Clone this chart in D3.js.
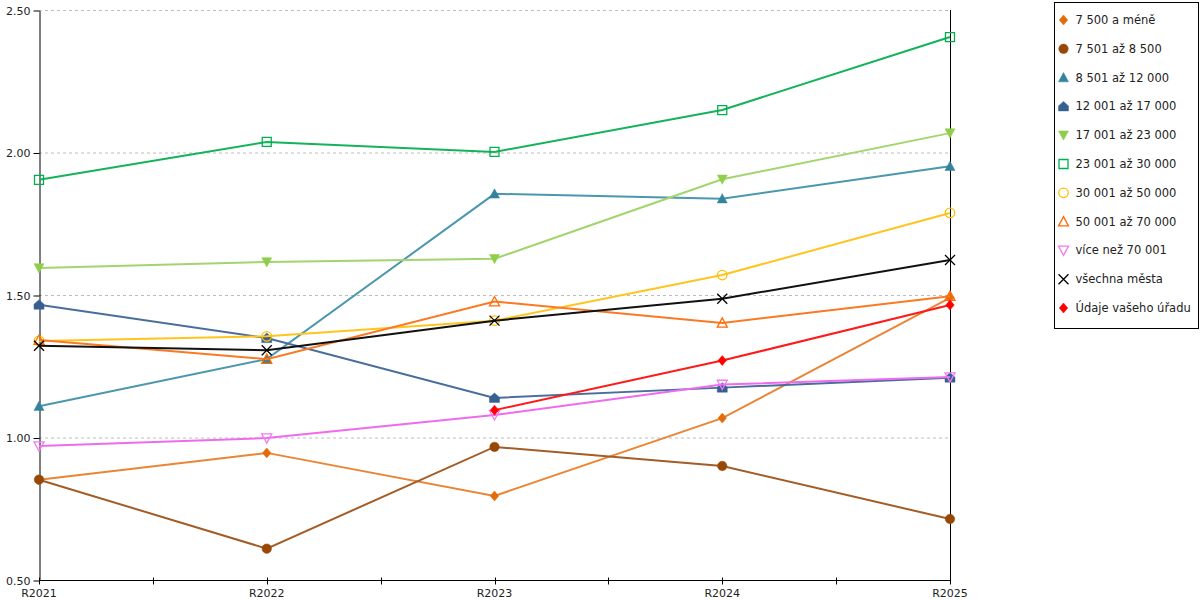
<!DOCTYPE html>
<html>
<head>
<meta charset="utf-8">
<script src="https://cdn.jsdelivr.net/npm/d3@7"></script>
<style>
  body { margin: 0; background: #fff; }
  svg { display: block; font-family: "DejaVu Sans", Verdana, sans-serif; }
</style>
</head>
<body>
<div id="chart"></div>
<script>
const categories = ["R2021", "R2022", "R2023", "R2024", "R2025"];
const yTicks = [0.5, 1.0, 1.5, 2.0, 2.5];

const seriesNames = [
    "7 500 a méně",
    "7 501 až 8 500",
    "8 501 až 12 000",
    "12 001 až 17 000",
    "17 001 až 23 000",
    "23 001 až 30 000",
    "30 001 až 50 000",
    "50 001 až 70 000",
    "více než 70 001",
    "všechna města",
    "Údaje vašeho úřadu"
];

const s7500 = [0.852, 0.946, 0.795, 1.068, 1.490];
const s8500 = [0.852, 0.610, 0.967, 0.900, 0.714];
const s12000 = [1.110, 1.275, 1.855, 1.838, 1.952];
const s17000 = [1.466, 1.349, 1.139, 1.175, 1.210];
const s23000 = [1.595, 1.616, 1.627, 1.906, 2.068];
const s30000 = [1.904, 2.037, 2.002, 2.149, 2.405];
const s50000 = [1.339, 1.355, 1.410, 1.570, 1.788];
const s70000 = [1.342, 1.275, 1.477, 1.402, 1.496];
const sOver70 = [0.970, 0.998, 1.079, 1.186, 1.212];
const sAll = [1.322, 1.306, 1.410, 1.487, 1.623];
const sOffice = [null, null, 1.096, 1.270, 1.465];

const seriesValues = [s7500, s8500, s12000, s17000, s23000, s30000, s50000, s70000, sOver70, sAll, sOffice];

// marker shape, marker colour, line colour, filled?
const styles = [
    {shape: "diamond", color: "#e36c0a", line: "#ea8535", fill: true},
    {shape: "circle", color: "#974806", line: "#a45c26", fill: true},
    {shape: "triangle", color: "#31849b", line: "#4b97ad", fill: true},
    {shape: "house", color: "#376092", line: "#4a6e9c", fill: true},
    {shape: "triangleDown", color: "#8fce4a", line: "#a3d56d", fill: true},
    {shape: "square", color: "#00b050", line: "#14b35a", fill: false},
    {shape: "circle", color: "#ffc000", line: "#ffc41e", fill: false},
    {shape: "triangle", color: "#ff6a00", line: "#fa7a24", fill: false},
    {shape: "triangleDown", color: "#f27bf2", line: "#f06af0", fill: false},
    {shape: "x", color: "#000000", line: "#111111", fill: false},
    {shape: "diamond", color: "#ff0000", line: "#ff1a1a", fill: true}
];

const width = 1200, height = 600;
const plotLeft = 39, plotRight = 950, plotTop = 10, plotBottom = 580;

const svg = d3.select("#chart").append("svg")
    .attr("width", width)
    .attr("height", height);

const x = d3.scalePoint().domain(categories).range([plotLeft, plotRight]);
const y = d3.scaleLinear().domain([0.5, 2.5]).range([plotBottom, plotTop]);

// custom marker shapes, r = half size
function shapePath(shape, r) {
    const p = d3.path();
    switch (shape) {
        case "diamond":
            p.moveTo(0, -r); p.lineTo(r * 0.85, 0); p.lineTo(0, r); p.lineTo(-r * 0.85, 0); p.closePath();
            break;
        case "circle":
            p.arc(0, 0, r * 0.95, 0, 2 * Math.PI);
            break;
        case "triangle":
            p.moveTo(0, -r); p.lineTo(r, r * 0.85); p.lineTo(-r, r * 0.85); p.closePath();
            break;
        case "triangleDown":
            p.moveTo(0, r); p.lineTo(r, -r * 0.85); p.lineTo(-r, -r * 0.85); p.closePath();
            break;
        case "house":
            p.moveTo(0, -r); p.lineTo(r, -r * 0.1); p.lineTo(r, r * 0.9); p.lineTo(-r, r * 0.9); p.lineTo(-r, -r * 0.1); p.closePath();
            break;
        case "square":
            p.rect(-r * 0.9, -r * 0.9, r * 1.8, r * 1.8);
            break;
        case "x":
            p.moveTo(-r, -r); p.lineTo(r, r); p.moveTo(r, -r); p.lineTo(-r, r);
            break;
    }
    return p.toString();
}

// grid
svg.append("g")
    .selectAll("line")
    .data(yTicks.slice(1))
    .join("line")
    .attr("x1", plotLeft)
    .attr("x2", plotRight)
    .attr("y1", d => y(d) + 0.5)
    .attr("y2", d => y(d) + 0.5)
    .attr("stroke", "#bdbdbd")
    .attr("stroke-dasharray", "3,3");

// right border line
svg.append("line")
    .attr("x1", plotRight + 0.5).attr("x2", plotRight + 0.5)
    .attr("y1", plotTop).attr("y2", plotBottom)
    .attr("stroke", "#000");

// y axis
const yAxis = svg.append("g")
    .attr("transform", `translate(${plotLeft + 0.5},0.5)`)
    .call(d3.axisLeft(y).tickValues(yTicks).tickFormat(d3.format(".2f")).tickSize(6).tickSizeOuter(0));
yAxis.select(".domain").attr("stroke", "#000");
yAxis.selectAll("text").attr("font-size", 11).attr("fill", "#222").attr("font-family", "DejaVu Sans, sans-serif").attr("x", -9);

// x axis with ticks at categories and midpoints
const step = x.step();
const xTickPos = d3.range(0, categories.length * 2 - 1).map(i => plotLeft + i * step / 2);
const xAxisG = svg.append("g").attr("transform", `translate(0,${plotBottom + 0.5})`);
xAxisG.append("line")
    .attr("x1", plotLeft).attr("x2", plotRight)
    .attr("stroke", "#000");
xAxisG.selectAll("line.tick")
    .data(xTickPos)
    .join("line")
    .attr("class", "tick")
    .attr("x1", d => Math.round(d) + 0.5)
    .attr("x2", d => Math.round(d) + 0.5)
    .attr("y1", -3)
    .attr("y2", 4)
    .attr("stroke", "#000");
xAxisG.selectAll("text")
    .data(categories)
    .join("text")
    .attr("x", d => x(d))
    .attr("y", 16)
    .attr("text-anchor", "middle")
    .attr("font-size", 11)
    .attr("fill", "#222")
    .text(d => d);

// series
const line = d3.line()
    .defined(d => d.v != null)
    .x(d => x(d.c))
    .y(d => y(d.v));

seriesValues.forEach((vals, i) => {
    const st = styles[i];
    const pts = vals.map((v, j) => ({c: categories[j], v}));
    const g = svg.append("g");
    g.append("path")
        .datum(pts)
        .attr("d", line)
        .attr("fill", "none")
        .attr("stroke", st.line)
        .attr("stroke-width", 2);
    g.selectAll("path.m")
        .data(pts.filter(d => d.v != null))
        .join("path")
        .attr("class", "m")
        .attr("transform", d => `translate(${x(d.c)},${y(d.v)})`)
        .attr("d", shapePath(st.shape, 5))
        .attr("fill", st.fill ? st.color : "none")
        .attr("stroke", st.color)
        .attr("stroke-width", st.fill ? 0.5 : 1.3);
});

// legend
const legend = svg.append("g").attr("transform", "translate(1054.5,2.5)");
legend.append("rect")
    .attr("width", 144)
    .attr("height", 326)
    .attr("fill", "#fff")
    .attr("stroke", "#000");
const items = legend.selectAll("g.item")
    .data(seriesNames)
    .join("g")
    .attr("class", "item")
    .attr("transform", (d, i) => `translate(0,${17.5 + i * 28.8})`);
items.append("path")
    .attr("transform", "translate(9,0)")
    .attr("d", (d, i) => shapePath(styles[i].shape, 5))
    .attr("fill", (d, i) => styles[i].fill ? styles[i].color : "none")
    .attr("stroke", (d, i) => styles[i].color)
    .attr("stroke-width", (d, i) => styles[i].fill ? 0.5 : 1.3);
items.append("text")
    .attr("x", 21)
    .attr("y", 4)
    .attr("font-size", 11.5)
    .attr("fill", "#222")
    .text(d => d);
</script>
</body>
</html>
